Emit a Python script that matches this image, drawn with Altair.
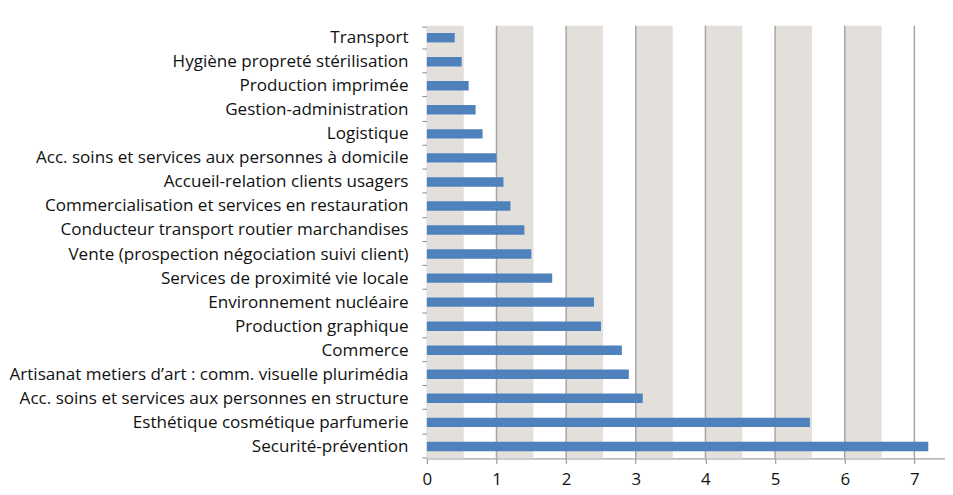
import altair as alt
import pandas as pd

categories = [
    "Transport",
    "Hygiène propreté stérilisation",
    "Production imprimée",
    "Gestion-administration",
    "Logistique",
    "Acc. soins et services aux personnes à domicile",
    "Accueil-relation clients usagers",
    "Commercialisation et services en restauration",
    "Conducteur transport routier marchandises",
    "Vente (prospection négociation suivi client)",
    "Services de proximité vie locale",
    "Environnement nucléaire",
    "Production graphique",
    "Commerce",
    "Artisanat metiers d’art : comm. visuelle plurimédia",
    "Acc. soins et services aux personnes en structure",
    "Esthétique cosmétique parfumerie",
    "Securité-prévention",
]
values = [0.4, 0.5, 0.6, 0.7, 0.8, 1.0, 1.1, 1.2, 1.4, 1.5, 1.8, 2.4, 2.5, 2.8, 2.9, 3.1, 5.5, 7.2]
x_ticks = [0, 1, 2, 3, 4, 5, 6, 7]

W, H = 522, 436
FONT = "Open Sans"

df = pd.DataFrame({"cat": categories, "val": values})
bands = pd.DataFrame({"start": x_ticks[:-1], "end": [t + 0.53 for t in x_ticks[:-1]]})
grid = pd.DataFrame({"g": x_ticks[1:]})

xscale = alt.Scale(domain=[0, 7.44], nice=False, zero=True)
xaxis = alt.Axis(
    values=x_ticks,
    grid=False,
    domainColor="#888888",
    tickColor="#888888",
    tickSize=5,
    labelFontSize=17,
    labelFont=FONT,
    labelColor="#111111",
    labelPadding=8,
    labelFlush=False,
    format="d",
)

band_layer = alt.Chart(bands).mark_rect(color="#e3e0dc").encode(
    x=alt.X("start:Q", scale=xscale, axis=xaxis, title=None),
    x2="end:Q",
    y=alt.value(0),
    y2=alt.value(H),
)

grid_layer = alt.Chart(grid).mark_rule(color="#a6a6a6", strokeWidth=1.5).encode(
    x=alt.X("g:Q", scale=xscale, axis=xaxis, title=None),
    y=alt.value(0),
    y2=alt.value(H),
)

bars = alt.Chart(df).mark_bar(color="#4f81bd", size=9.5).encode(
    x=alt.X("val:Q", scale=xscale, title=None, axis=xaxis),
    y=alt.Y(
        "cat:N",
        sort=categories,
        title=None,
        axis=alt.Axis(
            tickBand="extent",
            domainColor="#888888",
            tickColor="#888888",
            tickSize=5,
            labelFontSize=17.2,
            labelFont=FONT,
            labelColor="#111111",
            labelPadding=14,
            labelLimit=500,
        ),
    ),
)

chart = (
    alt.layer(band_layer, grid_layer, bars)
    .properties(
        width=W,
        height=H,
        padding={"left": 422, "top": 16, "right": 0, "bottom": 30},
        autosize=alt.AutoSizeParams(type="none"),
    )
    .configure_view(stroke=None)
)

chart.save("out.html", embed_options={"renderer": "svg", "actions": False})
